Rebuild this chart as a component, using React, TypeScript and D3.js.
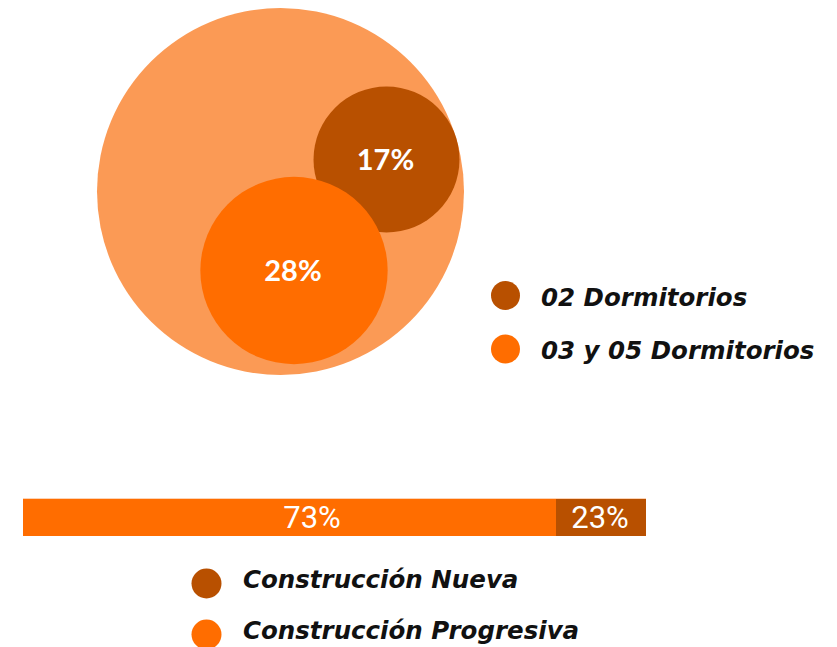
import React from "react";
import * as d3 from "d3";

const circleLabels = ["02 Dormitorios", "03 y 05 Dormitorios"];
const circleValues = [17, 28];
const circleColors = ["#B85000", "#FF6D00"];

const barLabels = ["Construcción Progresiva", "Construcción Nueva"];
const barValues = [73, 23];
const barColors = ["#FF6D00", "#B85000"];
const barLegendOrder = ["Construcción Nueva", "Construcción Progresiva"];
const barLegendColors = ["#B85000", "#FF6D00"];

const W = 837;
const H = 647;

export default function App() {
  const outer = { cx: 280.5, cy: 191.5, r: 183.5 };
  const rScale = d3.scaleSqrt().domain([0, 100]).range([0, 177]);
  const centers = [
    { cx: 386.5, cy: 159.5 },
    { cx: 294, cy: 270.5 },
  ];
  const cum = [0, barValues[0], barValues[0] + barValues[1]];
  const xBar = d3.scaleLinear().domain(cum).range([23, 556, 646]);
  const barY = 499;
  const barH = 37;
  const legend1 = d3.scalePoint().domain(circleLabels).range([295.5, 349]);
  const legend2 = d3.scalePoint().domain(barLegendOrder).range([583.5, 634.5]);
  const legendFont = "'DejaVu Sans', Verdana, sans-serif";

  return (
    <svg width={W} height={H} style={{ position: "absolute", left: 0, top: 0 }}>
      <circle cx={outer.cx} cy={outer.cy} r={outer.r} fill="#FB9A55" />
      {circleValues.map((v, i) => (
        <g key={i}>
          <circle cx={centers[i].cx} cy={centers[i].cy} r={rScale(v)} fill={circleColors[i]} />
          <text
            x={centers[i].cx - 1}
            y={centers[i].cy + 3}
            fill="#fff"
            fontFamily="Lato, sans-serif"
            fontWeight="bold"
            fontSize={29}
            textAnchor="middle"
            dominantBaseline="middle"
          >
            {v}%
          </text>
        </g>
      ))}
      {circleLabels.map((l, i) => (
        <g key={l}>
          <circle cx={505.5} cy={legend1(l)} r={14.5} fill={circleColors[i]} />
          <text
            x={541}
            y={(legend1(l) as number) + 10}
            fontFamily={legendFont}
            fontStyle="italic"
            fontWeight="bold"
            fontSize={24.5}
            fill="#111"
          >
            {l}
          </text>
        </g>
      ))}
      {barValues.map((v, i) => (
        <g key={i}>
          <rect
            x={xBar(cum[i])}
            y={barY}
            width={xBar(cum[i + 1]) - xBar(cum[i])}
            height={barH}
            fill={barColors[i]}
          />
          <text
            x={i === 0 ? 312 : 600}
            y={barY + barH / 2 + 2}
            fill="#fff"
            fontFamily="Roboto, sans-serif"
            fontSize={31}
            textAnchor="middle"
            dominantBaseline="middle"
          >
            {v}%
          </text>
        </g>
      ))}
      <rect x={23} y={barY - 1} width={623} height={1} fill="#FDD3B5" />
      {barLegendOrder.map((l, i) => (
        <g key={l}>
          <circle cx={206.5} cy={legend2(l)} r={15} fill={barLegendColors[i]} />
          <text
            x={243}
            y={(legend2(l) as number) + 4}
            fontFamily={legendFont}
            fontStyle="italic"
            fontWeight="bold"
            fontSize={24.5}
            fill="#111"
          >
            {l}
          </text>
        </g>
      ))}
    </svg>
  );
}
